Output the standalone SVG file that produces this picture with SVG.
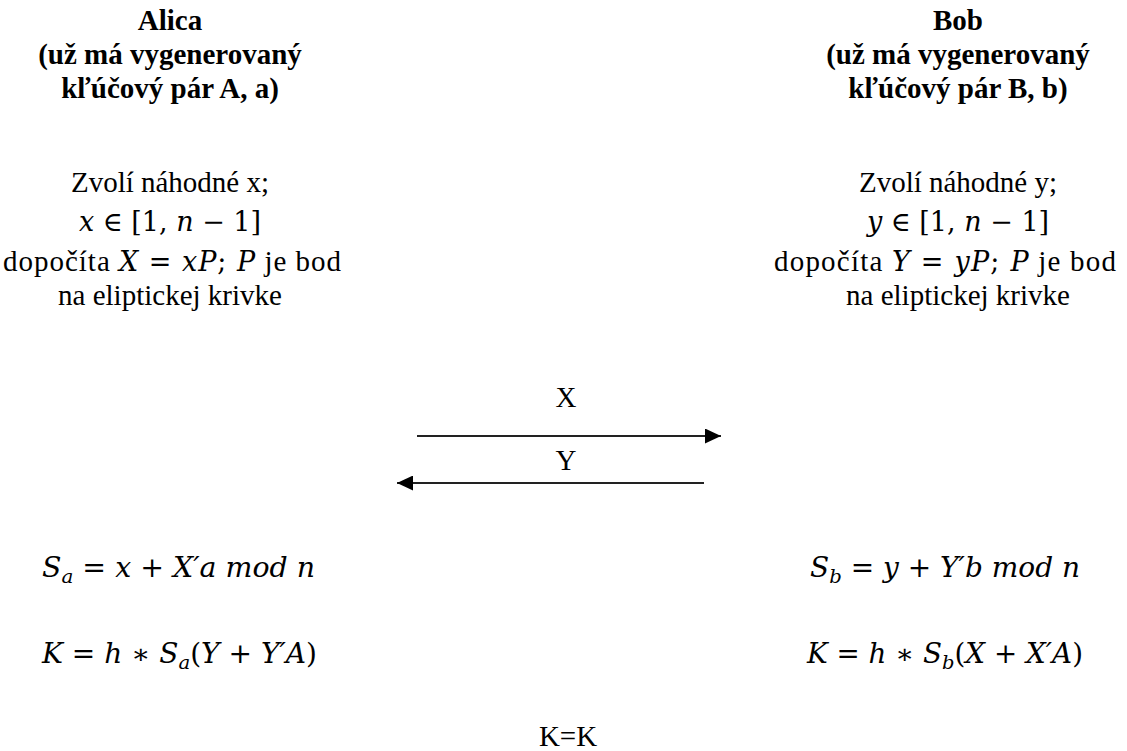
<svg xmlns="http://www.w3.org/2000/svg" width="1127" height="751" viewBox="0 0 1127 751">
<style>
.t{font-family:"Liberation Serif","Times New Roman",serif;font-size:29px;fill:#000}
.b{font-weight:bold;text-anchor:middle}
.c{text-anchor:middle}
.m{font-family:"DejaVu Serif","Liberation Serif",serif;font-style:italic;font-size:27px;fill:#000}
.u{font-style:normal}
.s{font-size:19px}
.ln{stroke:#222;stroke-width:2;fill:none}
</style>
<defs>
<marker id="ah" markerWidth="16" markerHeight="15" refX="16" refY="7.5" orient="auto" markerUnits="userSpaceOnUse">
<path d="M0,0 L16,7.5 L0,15 Z" fill="#000"/>
</marker>
</defs>
<rect width="1127" height="751" fill="#fff"/>
<g id="alica">
<text class="t b" x="170" y="30">Alica</text>
<text class="t b" x="170" y="64">(už má vygenerovaný</text>
<text class="t b" x="170" y="98">kľúčový pár A, a)</text>
<text class="t c" x="170" y="192">Zvolí náhodné x;</text>
<text class="t c" x="170" y="231"><tspan class="m">x</tspan><tspan class="m u"> ∈ [1, </tspan><tspan class="m">n</tspan><tspan class="m u"> − 1]</tspan></text>
<text class="t c" x="172" y="271" textLength="338" lengthAdjust="spacing">dopočíta <tspan class="m">X</tspan><tspan class="m u"> = </tspan><tspan class="m">xP</tspan><tspan class="m u">; </tspan><tspan class="m">P</tspan> je bod</text>
<text class="t c" x="170" y="305">na eliptickej krivke</text>
<text class="m" x="42" y="577" textLength="273" lengthAdjust="spacingAndGlyphs">S<tspan class="s" dy="6">a</tspan><tspan class="u" dy="-6"> = </tspan>x<tspan class="u"> + </tspan>X′a mod n</text>
<text class="m" x="42" y="663" textLength="275" lengthAdjust="spacingAndGlyphs">K<tspan class="u"> = </tspan>h<tspan class="u"> ∗ </tspan>S<tspan class="s" dy="6">a</tspan><tspan class="u" dy="-6">(</tspan>Y<tspan class="u"> + </tspan>Y′A<tspan class="u">)</tspan></text>
</g>
<g id="bob">
<text class="t b" x="958" y="30">Bob</text>
<text class="t b" x="958" y="64">(už má vygenerovaný</text>
<text class="t b" x="958" y="98">kľúčový pár B, b)</text>
<text class="t c" x="958" y="192">Zvolí náhodné y;</text>
<text class="t c" x="958" y="231"><tspan class="m">y</tspan><tspan class="m u"> ∈ [1, </tspan><tspan class="m">n</tspan><tspan class="m u"> − 1]</tspan></text>
<text class="t c" x="945" y="271" textLength="342" lengthAdjust="spacing">dopočíta <tspan class="m">Y</tspan><tspan class="m u"> = </tspan><tspan class="m">yP</tspan><tspan class="m u">; </tspan><tspan class="m">P</tspan> je bod</text>
<text class="t c" x="958" y="305">na eliptickej krivke</text>
<text class="m" x="810" y="577" textLength="270" lengthAdjust="spacingAndGlyphs">S<tspan class="s" dy="6">b</tspan><tspan class="u" dy="-6"> = </tspan>y<tspan class="u"> + </tspan>Y′b mod n</text>
<text class="m" x="807" y="663" textLength="276" lengthAdjust="spacingAndGlyphs">K<tspan class="u"> = </tspan>h<tspan class="u"> ∗ </tspan>S<tspan class="s" dy="6">b</tspan><tspan class="u" dy="-6">(</tspan>X<tspan class="u"> + </tspan>X′A<tspan class="u">)</tspan></text>
</g>
<g id="connectors">
<line class="ln" x1="417" y1="436" x2="721" y2="436" marker-end="url(#ah)"/>
<line class="ln" x1="704" y1="483" x2="397" y2="483" marker-end="url(#ah)"/>
<text class="t c" x="566" y="407">X</text>
<text class="t c" x="566" y="470">Y</text>
</g>
<g id="result">
<text class="t c" x="568" y="746">K=K</text>
</g>
</svg>
